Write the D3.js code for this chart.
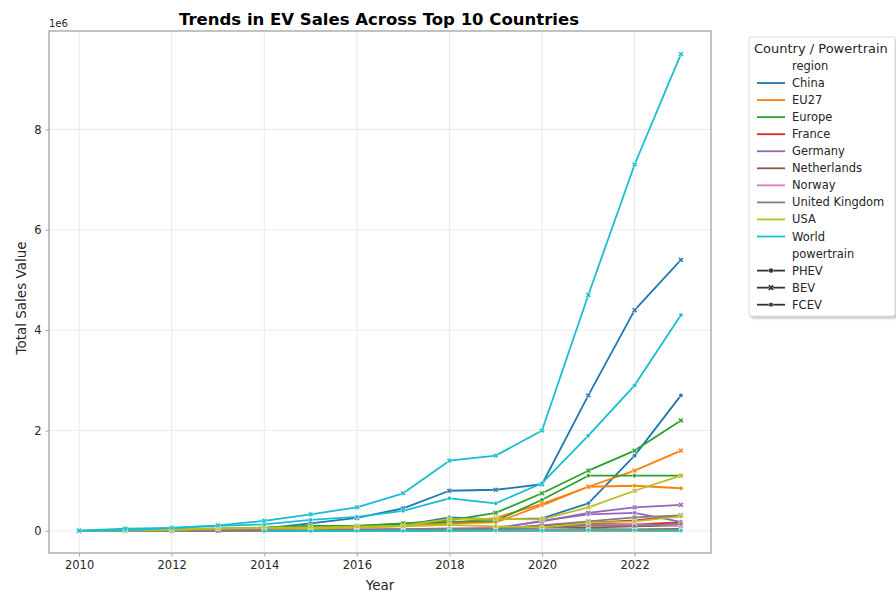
<!DOCTYPE html>
<html>
<head>
<meta charset="utf-8">
<script src="https://cdn.jsdelivr.net/npm/d3@7/dist/d3.min.js"></script>
<style>
  html, body { margin: 0; padding: 0; background: #fff; }
  svg { display: block; font-family: "DejaVu Sans", sans-serif; }
</style>
</head>
<body>
<svg id="chart" width="896" height="592"></svg>
<script>
// Years on the x axis
const years = [2010, 2011, 2012, 2013, 2014, 2015, 2016, 2017, 2018, 2019, 2020, 2021, 2022, 2023];

// Regions (hue) and powertrains (style)
const regions = ["China", "EU27", "Europe", "France", "Germany", "Netherlands", "Norway", "United Kingdom", "USA", "World"];
const powertrains = ["PHEV", "BEV", "FCEV"];
const regionColors = ["#1f77b4", "#ff7f0e", "#2ca02c", "#d62728", "#9467bd", "#8c564b", "#e377c2", "#7f7f7f", "#bcbd22", "#17becf"];

// Y axis ticks (values in millions, shown with a 1e6 offset label)
const yTicks = [0, 2, 4, 6, 8];
const xTicks = [2010, 2012, 2014, 2016, 2018, 2020, 2022];

// Sales per year, millions of vehicles (null = no record that year)
const chinaPHEV = [null, null, 0.002, 0.003, 0.02, 0.06, 0.08, 0.11, 0.27, 0.23, 0.25, 0.55, 1.5, 2.7];
const chinaBEV = [0.0012, 0.005, 0.0096, 0.015, 0.05, 0.15, 0.26, 0.45, 0.8, 0.82, 0.93, 2.7, 4.4, 5.4];
const chinaFCEV = [null, null, null, null, null, null, 0.0006, 0.0012, 0.0016, 0.0028, 0.0012, 0.0018, 0.0052, 0.005];

const eu27PHEV = [0.0001, 0.0012, 0.014, 0.03, 0.037, 0.09, 0.09, 0.12, 0.15, 0.17, 0.51, 0.88, 0.9, 0.85];
const eu27BEV = [0.0014, 0.008, 0.015, 0.025, 0.04, 0.06, 0.065, 0.1, 0.15, 0.26, 0.54, 0.88, 1.2, 1.6];
const eu27FCEV = [null, null, null, null, 0.0001, 0.0002, 0.0003, 0.0004, 0.0004, 0.0008, 0.0009, 0.0012, 0.0009, 0.0006];

const europePHEV = [0.0001, 0.0013, 0.015, 0.032, 0.043, 0.1, 0.1, 0.14, 0.18, 0.2, 0.62, 1.1, 1.1, 1.1];
const europeBEV = [0.0019, 0.011, 0.024, 0.043, 0.068, 0.1, 0.1, 0.15, 0.21, 0.36, 0.75, 1.2, 1.6, 2.2];
const europeFCEV = [null, null, null, null, 0.0001, 0.0003, 0.0004, 0.0005, 0.0005, 0.0011, 0.0013, 0.0021, 0.0012, 0.0008];

const francePHEV = [0, 0.0001, 0.0006, 0.0008, 0.0015, 0.005, 0.0079, 0.012, 0.015, 0.018, 0.075, 0.14, 0.13, 0.17];
const franceBEV = [0.0002, 0.0023, 0.0057, 0.0088, 0.01, 0.017, 0.022, 0.025, 0.031, 0.043, 0.11, 0.16, 0.21, 0.3];
const franceFCEV = [null, null, null, null, null, 0.0001, 0.0001, 0.0001, 0.0001, 0.0002, 0.0002, 0.0003, 0.0003, 0.0002];

const germanyPHEV = [0, 0.0003, 0.0009, 0.0014, 0.0047, 0.011, 0.013, 0.03, 0.031, 0.045, 0.2, 0.33, 0.36, 0.18];
const germanyBEV = [0.0001, 0.0021, 0.0029, 0.0061, 0.0084, 0.012, 0.011, 0.025, 0.036, 0.063, 0.19, 0.36, 0.47, 0.52];
const germanyFCEV = [null, null, null, null, null, 0.0001, 0.0001, 0.0002, 0.0002, 0.0004, 0.0004, 0.0006, 0.0003, 0.0003];

const netherlandsPHEV = [0, 0.0001, 0.0043, 0.02, 0.012, 0.041, 0.019, 0.0021, 0.0044, 0.0045, 0.018, 0.033, 0.029, 0.04];
const netherlandsBEV = [0.0001, 0.0008, 0.0009, 0.0027, 0.0036, 0.0038, 0.0046, 0.0098, 0.025, 0.062, 0.073, 0.067, 0.09, 0.11];
const netherlandsFCEV = [null, null, null, null, null, null, null, 0.0001, 0.0001, 0.0002, 0.0003, 0.0002, 0.0001, 0.0001];

const norwayPHEV = [0, 0, 0.0002, 0.0006, 0.0017, 0.0075, 0.015, 0.027, 0.024, 0.019, 0.032, 0.02, 0.01, 0.011];
const norwayBEV = [0.0003, 0.002, 0.0042, 0.0079, 0.018, 0.026, 0.03, 0.035, 0.049, 0.06, 0.077, 0.11, 0.14, 0.1];
const norwayFCEV = [null, null, null, null, null, 0.0001, 0.0001, 0.0001, 0.0001, 0.0001, 0.0001, 0.0001, 0.0001, 0.0001];

const ukPHEV = [0, 0, 0.0011, 0.0011, 0.008, 0.019, 0.027, 0.034, 0.044, 0.035, 0.066, 0.11, 0.1, 0.14];
const ukBEV = [0.0002, 0.001, 0.0012, 0.0028, 0.0064, 0.0095, 0.011, 0.014, 0.016, 0.038, 0.11, 0.19, 0.27, 0.31];
const ukFCEV = [null, null, null, null, null, 0.0001, 0.0001, 0.0001, 0.0001, 0.0001, 0.0001, 0.0001, 0.0001, 0.0001];

const usaPHEV = [0.0003, 0.0077, 0.038, 0.049, 0.055, 0.043, 0.073, 0.093, 0.12, 0.089, 0.07, 0.16, 0.19, 0.29];
const usaBEV = [0.0019, 0.0098, 0.015, 0.048, 0.063, 0.071, 0.086, 0.1, 0.24, 0.24, 0.23, 0.47, 0.8, 1.1];
const usaFCEV = [null, null, null, null, null, 0.0001, 0.001, 0.0023, 0.0023, 0.0021, 0.0009, 0.0034, 0.0027, 0.003];

const worldPHEV = [0.0004, 0.012, 0.06, 0.1, 0.13, 0.22, 0.28, 0.4, 0.65, 0.55, 0.95, 1.9, 2.9, 4.3];
const worldBEV = [0.0075, 0.045, 0.058, 0.11, 0.2, 0.33, 0.47, 0.75, 1.4, 1.5, 2.0, 4.7, 7.3, 9.5];
const worldFCEV = [null, null, null, null, 0.0001, 0.0006, 0.0023, 0.0033, 0.0046, 0.012, 0.0093, 0.016, 0.015, 0.0085];

const seriesValues = {
  "China": [chinaPHEV, chinaBEV, chinaFCEV],
  "EU27": [eu27PHEV, eu27BEV, eu27FCEV],
  "Europe": [europePHEV, europeBEV, europeFCEV],
  "France": [francePHEV, franceBEV, franceFCEV],
  "Germany": [germanyPHEV, germanyBEV, germanyFCEV],
  "Netherlands": [netherlandsPHEV, netherlandsBEV, netherlandsFCEV],
  "Norway": [norwayPHEV, norwayBEV, norwayFCEV],
  "United Kingdom": [ukPHEV, ukBEV, ukFCEV],
  "USA": [usaPHEV, usaBEV, usaFCEV],
  "World": [worldPHEV, worldBEV, worldFCEV]
};

const svg = d3.select("#chart");
const margin = { left: 49, top: 31, right: 711, bottom: 553 };

const x = d3.scaleLinear().domain([2009.35, 2023.65]).range([margin.left, margin.right]);
const y = d3.scaleLinear().domain([-0.44, 9.96]).range([margin.bottom, margin.top]);

const color = d3.scaleOrdinal().domain(regions).range(regionColors);

// Marker shapes per powertrain: circle, X, square
const markerPath = {
  PHEV: d3.symbol().type(d3.symbolCircle).size(14)(),
  BEV: d3.symbol().type(d3.symbolCross).size(18)(),
  FCEV: d3.symbol().type(d3.symbolSquare).size(12)()
};
const legendMarkerPath = {
  PHEV: d3.symbol().type(d3.symbolCircle).size(20)(),
  BEV: d3.symbol().type(d3.symbolCross).size(24)(),
  FCEV: d3.symbol().type(d3.symbolSquare).size(16)()
};
const markerRotate = { PHEV: 0, BEV: 45, FCEV: 0 };

const gridColor = "#e6e6e6";
const spineColor = "#a8a8a8";
const textColor = "#262626";

// Grid
const grid = svg.append("g");
grid.selectAll("line.vx").data(xTicks).join("line")
  .attr("x1", d => x(d)).attr("x2", d => x(d))
  .attr("y1", margin.top).attr("y2", margin.bottom)
  .attr("stroke", gridColor).attr("stroke-width", 0.8);
grid.selectAll("line.hy").data(yTicks).join("line")
  .attr("x1", margin.left).attr("x2", margin.right)
  .attr("y1", d => y(d)).attr("y2", d => y(d))
  .attr("stroke", gridColor).attr("stroke-width", 0.8);

// Lines and markers
const plot = svg.append("g");
const line = d3.line()
  .defined(d => d.v !== null)
  .x(d => x(d.year))
  .y(d => y(d.v));

regions.forEach(r => {
  powertrains.forEach((p, pi) => {
    const pts = years.map((yr, i) => ({ year: yr, v: seriesValues[r][pi][i] }));
    const c = color(r);
    plot.append("path")
      .datum(pts)
      .attr("d", line)
      .attr("fill", "none")
      .attr("stroke", c)
      .attr("stroke-width", 1.8)
      .attr("stroke-linejoin", "round");
    plot.selectAll(null)
      .data(pts.filter(d => d.v !== null))
      .join("path")
      .attr("d", markerPath[p])
      .attr("transform", d => `translate(${x(d.year)},${y(d.v)}) rotate(${markerRotate[p]})`)
      .attr("fill", c)
      .attr("stroke", "#fff")
      .attr("stroke-width", 0.5);
  });
});

// Axes
const xAxis = d3.axisBottom(x).tickValues(xTicks).tickFormat(d3.format("d")).tickSize(3.5).tickPadding(4);
const yAxis = d3.axisLeft(y).tickValues(yTicks).tickFormat(d3.format("d")).tickSize(3.5).tickPadding(4);

const gx = svg.append("g").attr("transform", `translate(0,${margin.bottom})`).call(xAxis);
const gy = svg.append("g").attr("transform", `translate(${margin.left},0)`).call(yAxis);
[gx, gy].forEach(g => {
  g.select(".domain").remove();
  g.selectAll(".tick line").attr("stroke", spineColor).attr("stroke-width", 1);
  g.selectAll(".tick text").attr("fill", textColor).style("font-size", "11.5px").style("font-family", "DejaVu Sans");
});

// Frame
svg.append("rect")
  .attr("x", margin.left).attr("y", margin.top)
  .attr("width", margin.right - margin.left).attr("height", margin.bottom - margin.top)
  .attr("fill", "none").attr("stroke", spineColor).attr("stroke-width", 1.4);

// Offset label
svg.append("text").attr("x", margin.left).attr("y", 27)
  .attr("fill", textColor).style("font-size", "10px").text("1e6");

// Title and axis labels
svg.append("text").attr("x", (margin.left + margin.right) / 2 - 1).attr("y", 25)
  .attr("text-anchor", "middle").attr("fill", "#000")
  .style("font-size", "16.5px").style("font-weight", "bold")
  .text("Trends in EV Sales Across Top 10 Countries");

svg.append("text").attr("x", (margin.left + margin.right) / 2).attr("y", 590)
  .attr("text-anchor", "middle").attr("fill", textColor)
  .style("font-size", "13.5px").text("Year");

svg.append("text")
  .attr("transform", `translate(26,${(margin.top + margin.bottom) / 2 + 6}) rotate(-90)`)
  .attr("text-anchor", "middle").attr("fill", textColor)
  .style("font-size", "13.5px").text("Total Sales Value");

// Legend
const lg = svg.append("g").attr("transform", "translate(749,37)");
const defs = svg.append("defs");
const filt = defs.append("filter").attr("id", "shadow").attr("x", "-10%").attr("y", "-10%").attr("width", "130%").attr("height", "130%");
filt.append("feDropShadow").attr("dx", 2).attr("dy", 2).attr("stdDeviation", 1.2).attr("flood-color", "#000").attr("flood-opacity", 0.25);

lg.append("rect").attr("x", 0).attr("y", 0).attr("width", 146).attr("height", 279)
  .attr("rx", 2).attr("fill", "#fff").attr("stroke", "#d0d0d0").attr("stroke-width", 0.8)
  .attr("filter", "url(#shadow)");

lg.append("text").attr("x", 5).attr("y", 16).attr("fill", textColor)
  .style("font-size", "13px").text("Country / Powertrain");

const rowH = 17.05;
const legendRows = [{ label: "region", kind: "head" }]
  .concat(regions.map(r => ({ label: r, kind: "hue" })))
  .concat([{ label: "powertrain", kind: "head" }])
  .concat(powertrains.map(p => ({ label: p, kind: "style" })));

legendRows.forEach((row, i) => {
  const cy = 29 + i * rowH;
  const g = lg.append("g").attr("transform", `translate(0,${cy})`);
  if (row.kind === "hue") {
    g.append("line").attr("x1", 8).attr("x2", 36).attr("y1", 0).attr("y2", 0)
      .attr("stroke", color(row.label)).attr("stroke-width", 1.8);
  } else if (row.kind === "style") {
    g.append("line").attr("x1", 8).attr("x2", 36).attr("y1", 0).attr("y2", 0)
      .attr("stroke", "#333").attr("stroke-width", 1.8);
    g.append("path").attr("d", legendMarkerPath[row.label])
      .attr("transform", `translate(22,0) rotate(${markerRotate[row.label]})`)
      .attr("fill", "#333").attr("stroke", "#fff").attr("stroke-width", 0.5);
  }
  g.append("text").attr("x", 43).attr("y", 0).attr("dy", "0.35em")
    .attr("fill", textColor).style("font-size", "11.5px").text(row.label);
});
</script>
</body>
</html>
